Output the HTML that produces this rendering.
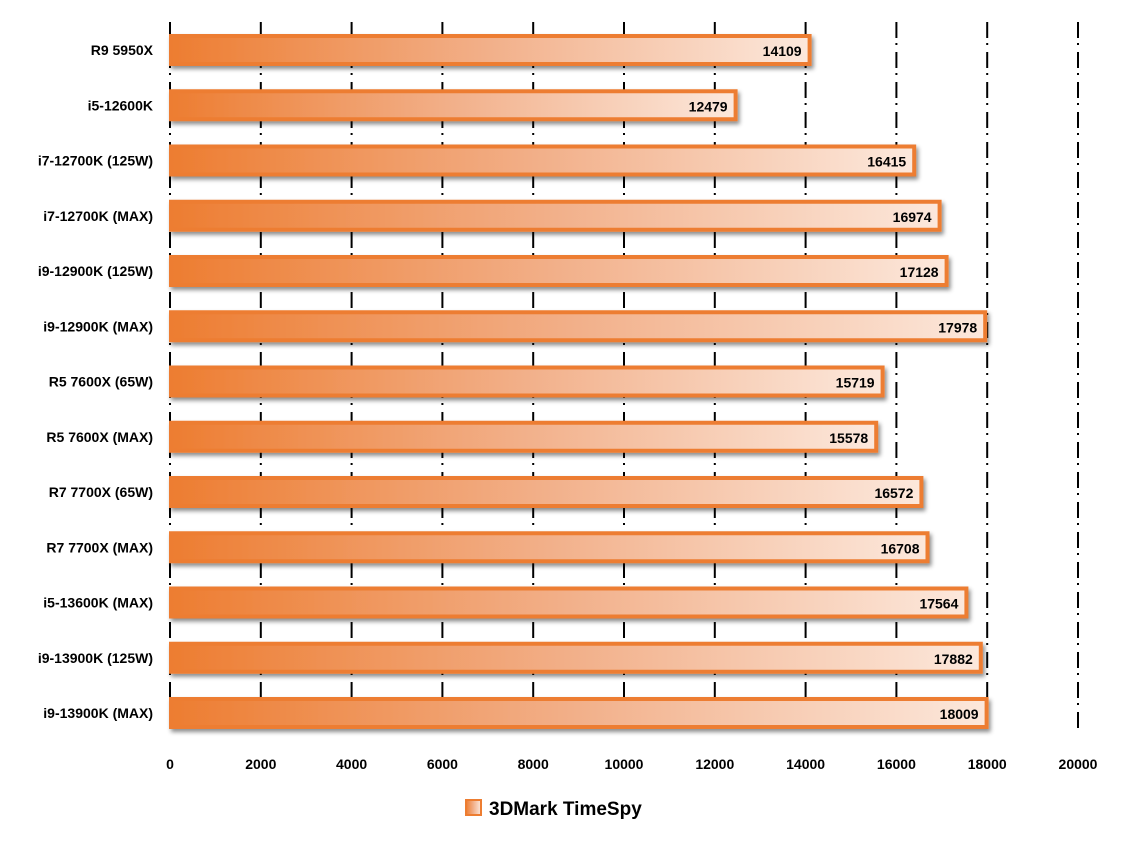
<!DOCTYPE html>
<html><head><meta charset="utf-8"><style>
body{margin:0;background:#fff;}
svg text{font-family:"Liberation Sans",sans-serif;font-weight:bold;}
</style></head><body>
<svg width="1124" height="842" xmlns="http://www.w3.org/2000/svg">
<defs>
<linearGradient id="g" x1="0" x2="1" y1="0" y2="0">
<stop offset="0" stop-color="#ED7D31"/><stop offset="0.5" stop-color="#F2B08A"/><stop offset="1" stop-color="#FCE8DC"/>
</linearGradient>
<filter id="s" x="-5%" y="-30%" width="110%" height="170%"><feDropShadow dx="2" dy="3" stdDeviation="2" flood-color="#000" flood-opacity="0.45"/></filter>
</defs>
<g stroke="#000" stroke-width="2" stroke-dasharray="16,5,2,7">
<line x1="170" y1="22" x2="170" y2="732"/><line x1="260.8" y1="22" x2="260.8" y2="732"/><line x1="351.6" y1="22" x2="351.6" y2="732"/><line x1="442.4" y1="22" x2="442.4" y2="732"/><line x1="533.2" y1="22" x2="533.2" y2="732"/><line x1="624" y1="22" x2="624" y2="732"/><line x1="714.8" y1="22" x2="714.8" y2="732"/><line x1="805.6" y1="22" x2="805.6" y2="732"/><line x1="896.4" y1="22" x2="896.4" y2="732"/><line x1="987.2" y1="22" x2="987.2" y2="732"/><line x1="1078" y1="22" x2="1078" y2="732"/>
</g>
<g font-size="14" text-anchor="middle" fill="#000">
<text x="170" y="769">0</text><text x="260.8" y="769">2000</text><text x="351.6" y="769">4000</text><text x="442.4" y="769">6000</text><text x="533.2" y="769">8000</text><text x="624" y="769">10000</text><text x="714.8" y="769">12000</text><text x="805.6" y="769">14000</text><text x="896.4" y="769">16000</text><text x="987.2" y="769">18000</text><text x="1078" y="769">20000</text>
</g>
<g fill="url(#g)" stroke="#ED7D31" stroke-width="4" filter="url(#s)">
<rect x="171" y="36" width="638.6" height="28"/>
<rect x="171" y="91.25" width="564.6" height="28"/>
<rect x="171" y="146.5" width="743.2" height="28"/>
<rect x="171" y="201.75" width="768.6" height="28"/>
<rect x="171" y="257" width="775.6" height="28"/>
<rect x="171" y="312.25" width="814.2" height="28"/>
<rect x="171" y="367.5" width="711.6" height="28"/>
<rect x="171" y="422.75" width="705.2" height="28"/>
<rect x="171" y="478" width="750.4" height="28"/>
<rect x="171" y="533.25" width="756.5" height="28"/>
<rect x="171" y="588.5" width="795.4" height="28"/>
<rect x="171" y="643.75" width="809.8" height="28"/>
<rect x="171" y="699" width="815.6" height="28"/>
</g>
<g font-size="14" text-anchor="end" fill="#000">
<text x="153" y="55">R9 5950X</text>
<text x="153" y="110.25">i5-12600K</text>
<text x="153" y="165.5">i7-12700K (125W)</text>
<text x="153" y="220.75">i7-12700K (MAX)</text>
<text x="153" y="276">i9-12900K (125W)</text>
<text x="153" y="331.25">i9-12900K (MAX)</text>
<text x="153" y="386.5">R5 7600X (65W)</text>
<text x="153" y="441.75">R5 7600X (MAX)</text>
<text x="153" y="497">R7 7700X (65W)</text>
<text x="153" y="552.25">R7 7700X (MAX)</text>
<text x="153" y="607.5">i5-13600K (MAX)</text>
<text x="153" y="662.75">i9-13900K (125W)</text>
<text x="153" y="718">i9-13900K (MAX)</text>
<text x="801.6" y="56">14109</text>
<text x="727.6" y="111.25">12479</text>
<text x="906.2" y="166.5">16415</text>
<text x="931.6" y="221.75">16974</text>
<text x="938.6" y="277">17128</text>
<text x="977.2" y="332.25">17978</text>
<text x="874.6" y="387.5">15719</text>
<text x="868.2" y="442.75">15578</text>
<text x="913.4" y="498">16572</text>
<text x="919.5" y="553.25">16708</text>
<text x="958.4" y="608.5">17564</text>
<text x="972.8" y="663.75">17882</text>
<text x="978.6" y="719">18009</text>
</g>
<rect x="466" y="800" width="15" height="15" fill="url(#g)" stroke="#ED7D31" stroke-width="2"/>
<text x="489" y="815" font-size="19">3DMark TimeSpy</text>
</svg>
</body></html>
